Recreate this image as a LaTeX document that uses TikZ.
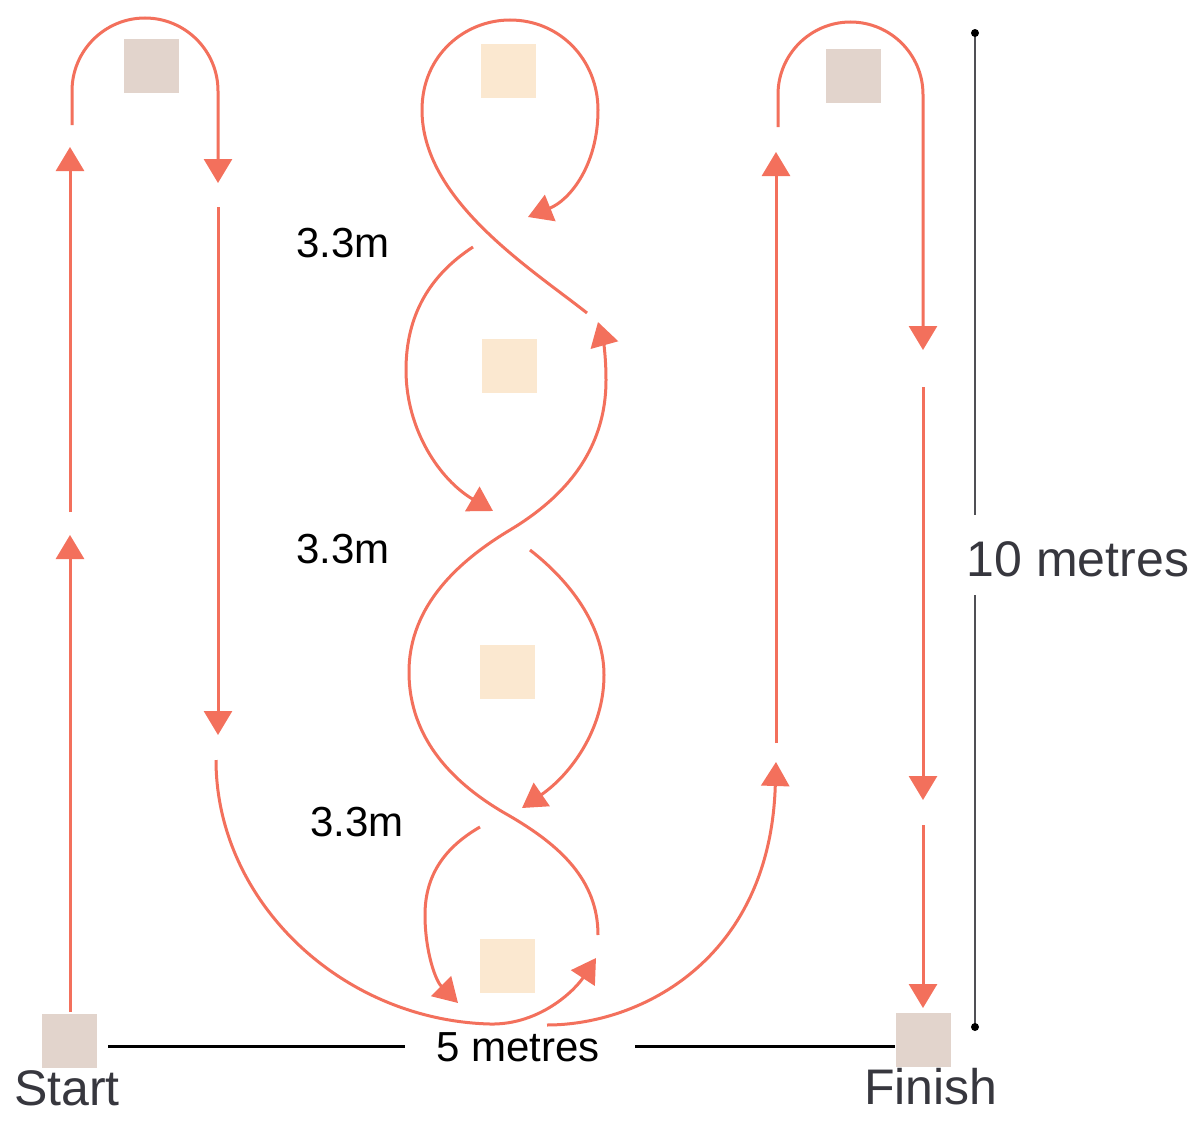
\documentclass[tikz,border=0pt]{standalone}
\usepackage{fontspec}
\setmainfont{Liberation Sans}
\usetikzlibrary{arrows.meta}
\definecolor{route}{RGB}{243,112,92}
\definecolor{coneout}{RGB}{226,212,204}
\definecolor{conemid}{RGB}{251,232,208}
\definecolor{dimgray}{RGB}{80,80,85}
\definecolor{labelgray}{RGB}{55,55,62}
\begin{document}
\begin{tikzpicture}[x=1pt,y=-1pt,
  run/.style={draw=route,line width=3pt},
  runarr/.style={run,-{Triangle[width=28pt,length=24pt]}},
  conebox/.style={draw=none,minimum width=55pt,minimum height=54pt,inner sep=0pt},
  outcone/.style={conebox,fill=coneout},
  midcone/.style={conebox,fill=conemid},
  biglabel/.style={font=\fontsize{50}{60}\selectfont,text=labelgray,inner sep=0pt},
  dimlabel/.style={font=\fontsize{42}{50}\selectfont,text=black,inner sep=0pt},
  dimline/.style={draw=dimgray,line width=2pt}]
\useasboundingbox (0,0) rectangle (1200,1135);
\fill[white] (0,0) rectangle (1200,1135);

% cones
\node[outcone] (cstart) at (69,1041) {};
\node[outcone] (ctl) at (151,66) {};
\node[midcone] (cm1) at (508,71) {};
\node[midcone] (cm2) at (509,366) {};
\node[midcone] (cm3) at (507,672) {};
\node[midcone] (cm4) at (507,966) {};
\node[outcone] (ctr) at (853,76) {};
\node[outcone] (cfinish) at (923,1040) {};

% labels
\node[biglabel] (tstart) at (67,1088) {Start};
\node[biglabel] (tfinish) at (931,1087) {Finish};
\node[biglabel] (tten) at (1078,559) {10 metres};
\node[dimlabel] (tfive) at (518,1047) {5 metres};
\node[dimlabel] (ta) at (343,243) {3.3m};
\node[dimlabel] (tb) at (343,549) {3.3m};
\node[dimlabel] (tc) at (357,822) {3.3m};

% dimension lines
\coordinate (dtop) at (975,33);
\coordinate (dbot) at (975,1027);
\draw[dimline] (dtop) -- (975,515);
\draw[dimline] (975,595) -- (dbot);
\fill[black] (dtop) circle (4pt);
\fill[black] (dbot) circle (4pt);
\draw[black,line width=3pt] (108,1046) -- (405,1046);
\draw[black,line width=3pt] (635,1046) -- (895,1046);

% left loop
\draw[runarr] (70,1012) -- (70,535);
\draw[runarr] (70,512) -- (70,147);
\draw[runarr] (72,125) -- (72,91) .. controls (72,50.7) and (104.7,18) .. (145,18)
  .. controls (185.3,18) and (218,50.7) .. (218,91) -- (218,183);
\draw[runarr] (218,207) -- (218,735);
\draw[runarr] (216,760) .. controls (216,900) and (340,1020) .. (490,1024)
  .. controls (540,1025) and (575,990) .. (596,958);

% serpentine
\draw[runarr] (598,935) .. controls (598,880) and (560,845) .. (508,815)
  .. controls (455,785) and (409,740) .. (409,672)
  .. controls (409,605) and (460,560) .. (510,530)
  .. controls (565,497) and (606,450) .. (606,380)
  .. controls (606,355) and (603,340) .. (598,322);
\draw[runarr] (587,313) .. controls (530,268) and (422,200) .. (422,110)
  .. controls (422,55) and (465,20) .. (510,20)
  .. controls (560,20) and (598,60) .. (598,110)
  .. controls (598,165) and (570,200) .. (528,217);
\draw[runarr] (473,247) .. controls (430,275) and (406,315) .. (406,370)
  .. controls (406,430) and (440,480) .. (493,511);
\draw[runarr] (530,550) .. controls (575,585) and (604,630) .. (604,675)
  .. controls (604,730) and (570,775) .. (522,808);
\draw[runarr] (480,827) .. controls (440,850) and (425,880) .. (425,915)
  .. controls (425,950) and (435,980) .. (458,1003);

% right loop
\draw[runarr] (547,1025) .. controls (640,1025) and (770,960) .. (776,762);
\draw[runarr] (776,743) -- (776,152);
\draw[runarr] (778,127) -- (778,94.5) .. controls (778,54.5) and (810.5,22) .. (850.5,22)
  .. controls (890.5,22) and (923,54.5) .. (923,94.5) -- (923,350);
\draw[runarr] (923,387) -- (923,800);
\draw[runarr] (923,825) -- (923,1008);
\end{tikzpicture}
\end{document}
